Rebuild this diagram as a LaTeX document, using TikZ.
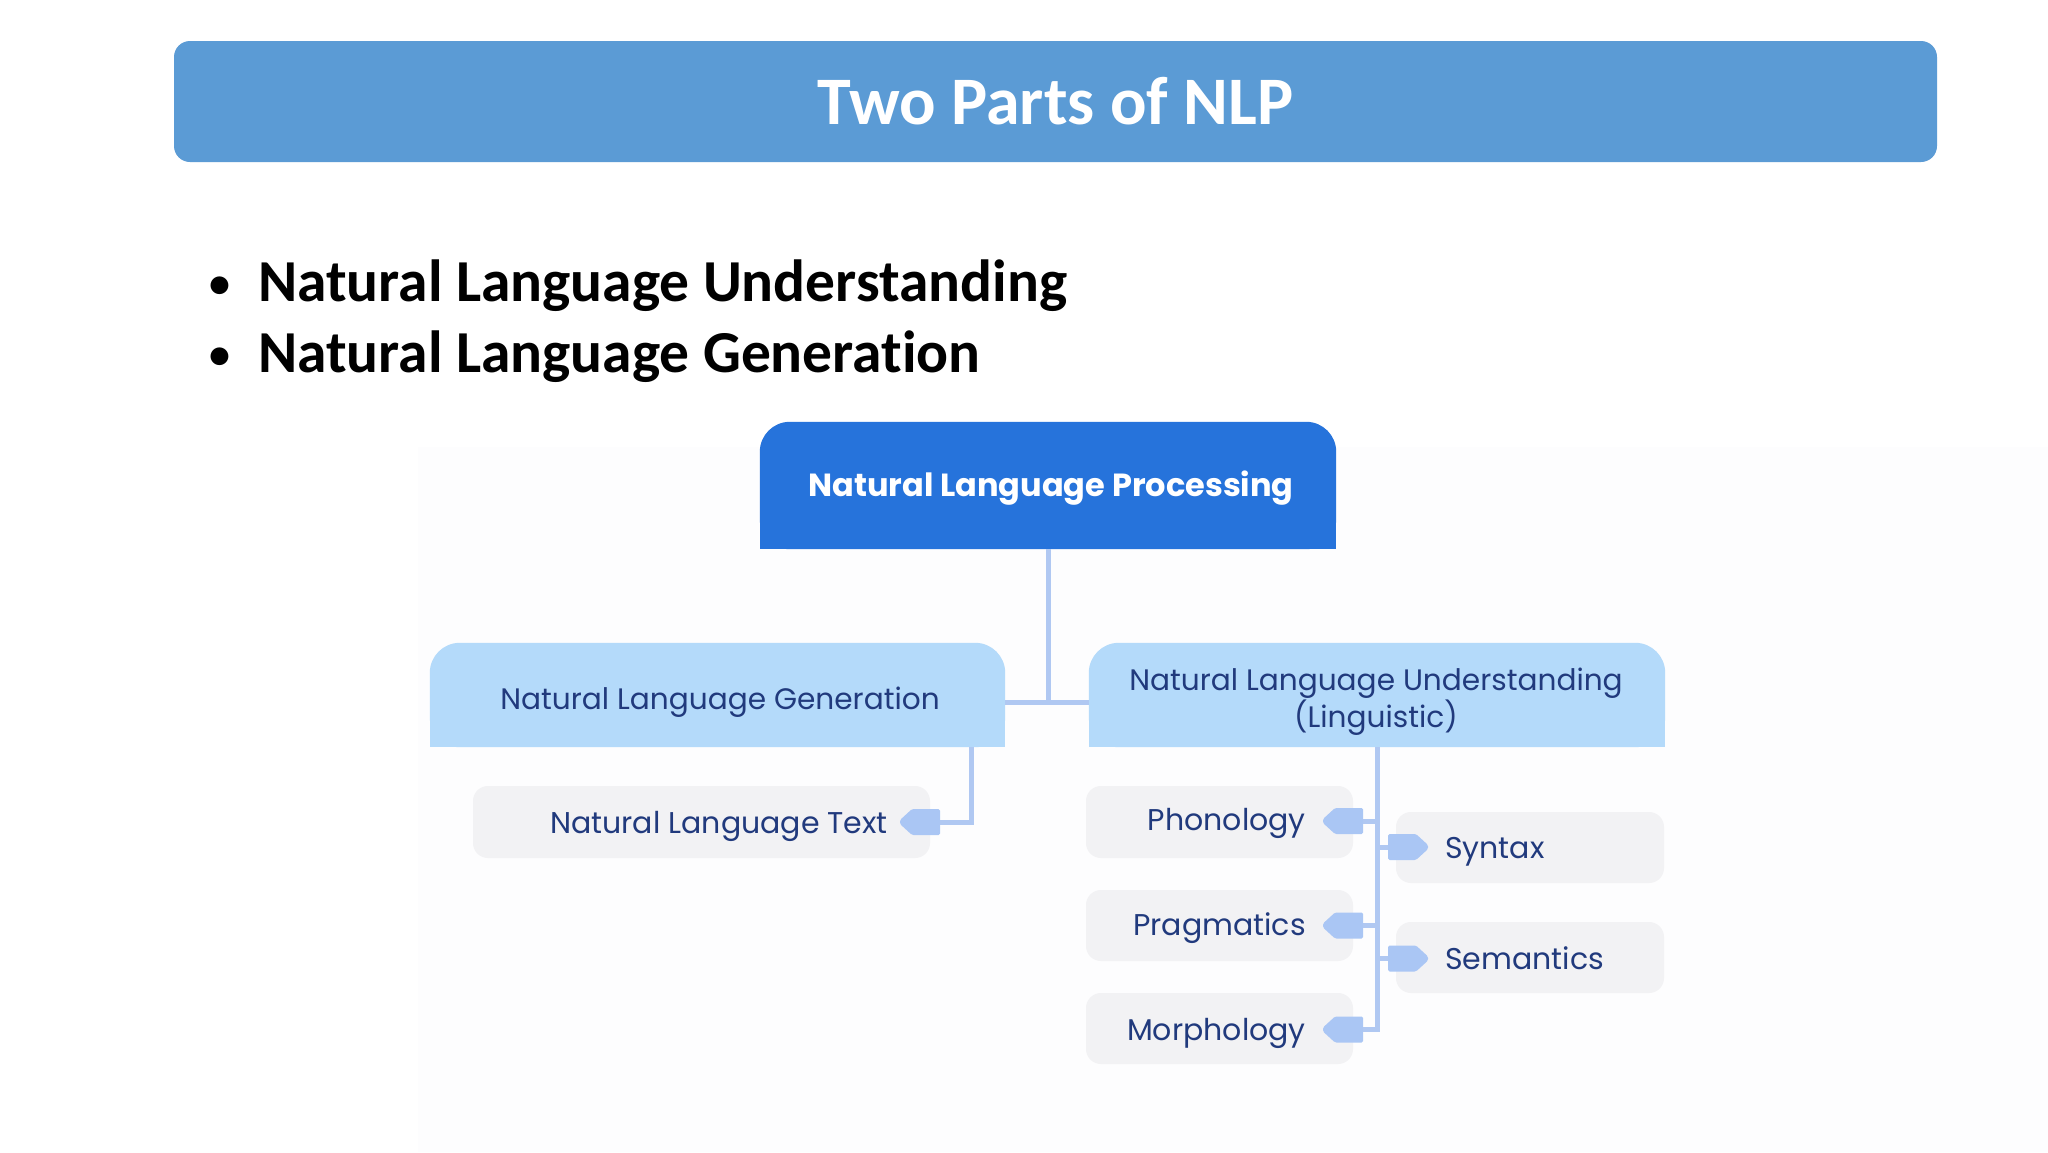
\documentclass[tikz,border=0pt]{standalone}
\usepackage{fontspec}
\setmainfont{Carlito}[Ligatures=NoCommon]
\newfontfamily\diagfont{Poppins}
\usetikzlibrary{calc}
\definecolor{titleblue}{RGB}{91,155,213}
\definecolor{rootblue}{RGB}{38,115,219}
\definecolor{lvlblue}{RGB}{180,218,250}
\definecolor{navy}{RGB}{33,58,125}
\definecolor{leafgray}{RGB}{242,242,244}
\definecolor{linkblue}{RGB}{176,200,242}
\definecolor{tagblue}{RGB}{170,198,244}
\definecolor{diagbg}{RGB}{253,253,254}
\begin{document}
\begin{tikzpicture}[x=1pt,y=-1pt,
  titlebar/.style={fill=titleblue, rounded corners=16pt, inner sep=0pt, text=white,
    font=\fontsize{68}{72}\selectfont\bfseries},
  bullettext/.style={inner sep=0pt, text=black, font=\fontsize{59.5}{64}\selectfont\bfseries},
  bulletdot/.style={inner sep=0pt, text=black, font=\fontsize{42}{46}\selectfont\bfseries},
  boxshape/.style={inner sep=0pt, draw=none},
  roottext/.style={inner sep=0pt, text=white, font=\diagfont\fontsize{32}{36}\selectfont\bfseries},
  lvltext/.style={inner sep=0pt, text=navy, font=\diagfont\fontsize{29.6}{37}\selectfont},
  leafbox/.style={fill=leafgray, rounded corners=15pt, inner sep=0pt},
  leaftext/.style={inner sep=0pt, text=navy, font=\diagfont\fontsize{30}{34}\selectfont},
  link/.style={draw=linkblue, line width=5pt},
  ltag/.pic={\fill[tagblue, rounded corners=1.5pt] (0,-13) -- (-28,-13) -- (-40,-2) -- (-40,2) -- (-28,13) -- (0,13) -- cycle;
             \coordinate (-end) at (0,0);},
  rtag/.pic={\fill[tagblue, rounded corners=1.5pt] (0,-13) -- (28,-13) -- (40,-2) -- (40,2) -- (28,13) -- (0,13) -- cycle;
             \coordinate (-end) at (0,0);}
]
\useasboundingbox (0,0) rectangle (2048,1152);
\fill[white] (0,0) rectangle (2048,1152);
\fill[diagbg] (418,447) rectangle (2048,1152);

% title
\node[titlebar, minimum width=1763pt, minimum height=121pt] (title) at (1055.5,101.5) {Two Parts of NLP};

% bullets
\node[bulletdot, anchor=base] (dot1) at (220,297) {•};
\node[bullettext, anchor=base west] (b1) at (258,301) {Natural Language Understanding};
\node[bulletdot, anchor=base] (dot2) at (220,368) {•};
\node[bullettext, anchor=base west] (b2) at (258,372) {Natural Language Generation};

% top-level boxes (shape only, named)
\node[boxshape, minimum width=576pt, minimum height=127pt] (root) at (1048,485.5) {};
\node[boxshape, minimum width=575pt, minimum height=104pt] (nlg) at (717.5,695) {};
\node[boxshape, minimum width=576pt, minimum height=104pt] (nlu) at (1377,695) {};

\fill[rootblue, rounded corners=30pt] (root.south west) rectangle (root.north east);
\fill[rootblue] (root.west) rectangle (root.south east);
\fill[lvlblue, rounded corners=30pt] (nlg.south west) rectangle (nlg.north east);
\fill[lvlblue] (nlg.west) rectangle (nlg.south east);
\fill[lvlblue, rounded corners=30pt] (nlu.south west) rectangle (nlu.north east);
\fill[lvlblue] (nlu.west) rectangle (nlu.south east);

\node[roottext, anchor=base] (rootT) at (1051,496) {Natural Language Processing};
\node[lvltext, anchor=base] (nlgT) at (720,709) {Natural Language Generation};
\node[lvltext, anchor=base, align=center] (nluT) at (1376,727) {Natural Language Understanding\\(Linguistic)};

% leaves
\node[leafbox, minimum width=457pt, minimum height=72pt] (nlt) at (701.5,822) {};
\node[leafbox, minimum width=267pt, minimum height=72pt] (pho) at (1219.5,822) {};
\node[leafbox, minimum width=267pt, minimum height=71pt] (pra) at (1219.5,925.5) {};
\node[leafbox, minimum width=267pt, minimum height=71pt] (mor) at (1219.5,1028.5) {};
\node[leafbox, minimum width=268pt, minimum height=71pt] (syn) at (1530,847.5) {};
\node[leafbox, minimum width=268pt, minimum height=71pt] (sem) at (1530,957.5) {};

\node[leaftext, anchor=base east] (nltT) at (888,833) {Natural Language Text};
\node[leaftext, anchor=base east] (phoT) at (1306,830) {Phonology};
\node[leaftext, anchor=base east] (praT) at (1306,935) {Pragmatics};
\node[leaftext, anchor=base east] (morT) at (1306,1040) {Morphology};
\node[leaftext, anchor=base west] (synT) at (1445,858) {Syntax};
\node[leaftext, anchor=base west] (semT) at (1445,969) {Semantics};

% tags
\pic (tagnlt) at (940,822) {ltag};
\pic (tagpho) at (1363,821) {ltag};
\pic (tagpra) at (1363,925.5) {ltag};
\pic (tagmor) at (1363,1029.5) {ltag};
\pic (tagsyn) at (1388,847) {rtag};
\pic (tagsem) at (1388,958.5) {rtag};

% connectors
\path (root.south) ++(0,153) coordinate (j);
\coordinate (nlgdrop) at ([xshift=-34pt]nlg.south east);
\draw[link] (root.south) -- (j);
\draw[link] (nlg.east |- j) -- (nlu.west |- j);
\draw[link, line join=miter] (nlgdrop) |- (tagnlt-end);
\draw[link] (nlu.south) -- (nlu.south |- tagmor-end);
\draw[link] (tagpho-end) -- (tagpho-end -| nlu.south);
\draw[link] (tagpra-end) -- (tagpra-end -| nlu.south);
\draw[link] (tagmor-end) -- ([xshift=2.5pt]tagmor-end -| nlu.south);
\draw[link] (tagsyn-end) -- (tagsyn-end -| nlu.south);
\draw[link] (tagsem-end) -- (tagsem-end -| nlu.south);
\end{tikzpicture}
\end{document}
